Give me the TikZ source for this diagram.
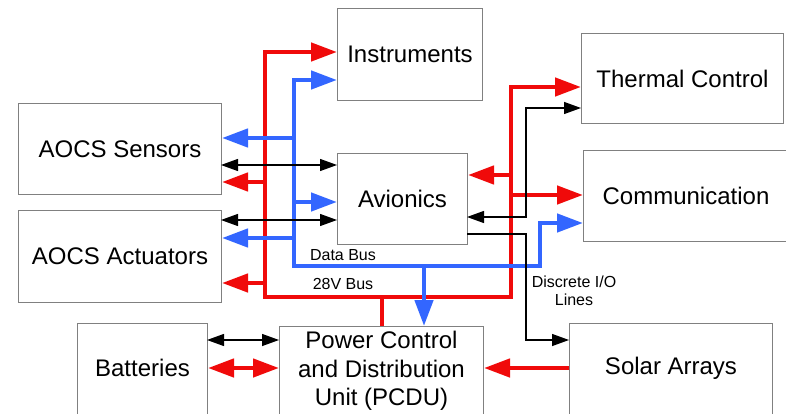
\documentclass[tikz,border=0pt]{standalone}
\usepackage{fontspec}
\setmainfont{Liberation Sans}
\usetikzlibrary{arrows.meta}
\definecolor{busred}{RGB}{240,10,10}
\definecolor{busblue}{RGB}{51,102,255}
\definecolor{boxgray}{RGB}{128,128,128}
\tikzset{
  box/.style={draw=boxgray, line width=1pt, fill=white, anchor=north west,
    inner sep=0pt, align=center, font=\fontsize{24}{28.5}\selectfont},
  lbl/.style={font=\fontsize{16}{18}\selectfont, inner sep=0pt, align=center},
  bigtip/.tip={Triangle[length=26pt, width=18pt]},
  smalltip/.tip={Triangle[length=17pt, width=12pt]},
  redline/.style={draw=busred, line width=4.5pt, line join=miter},
  blueline/.style={draw=busblue, line width=4.5pt, line join=miter},
  blackline/.style={draw=black, line width=1.3pt, line join=miter},
}
\begin{document}
\begin{tikzpicture}[x=1pt, y=-1pt]
\useasboundingbox (0,0) rectangle (786,414);
\fill[white] (0,0) rectangle (786,414);

% boxes
\node[box, minimum width=145, minimum height=92] (inst) at (337,8) {Instruments};
\node[box, minimum width=203, minimum height=91] (sens) at (18,103) {AOCS Sensors};
\node[box, minimum width=203, minimum height=92] (act) at (18,210) {AOCS Actuators};
\node[box, minimum width=130, minimum height=91] (avio) at (337,153) {Avionics};
\node[box, minimum width=202, minimum height=90] (therm) at (581,33) {Thermal Control};
\node[box, minimum width=205, minimum height=91] (comm) at (583,150) {Communication};
\node[box, minimum width=130, minimum height=98, text depth=9pt] (bat) at (77,323) {Batteries};
\node[box, minimum width=204, minimum height=95, text depth=11pt] (pcdu) at (279,326) {Power Control\\and Distribution\\Unit (PCDU)};
\node[box, minimum width=203, minimum height=98, text depth=13pt] (solar) at (569,323) {Solar Arrays};

% bus coordinates
\coordinate (rtl) at (265,52);
\coordinate (rbl) at (265,297);
\coordinate (rbr) at (511,297);
\coordinate (rtr) at (511,87);
\coordinate (rsens) at (265,182);
\coordinate (ract) at (265,283);
\coordinate (ravio) at (511,175);
\coordinate (rcomm) at (511,195);
\coordinate (rpcdu) at (382,297);
\coordinate (rsolar) at (569,368);

\coordinate (btl) at (294,80);
\coordinate (bbl) at (294,266);
\coordinate (bbr) at (540,266);
\coordinate (bcr) at (540,223);
\coordinate (bsens) at (294,138);
\coordinate (bavio) at (294,202);
\coordinate (bact) at (294,238);
\coordinate (bpcdu) at (424,266);

\coordinate (ksens) at (221,165);
\coordinate (kact) at (221,220);
\coordinate (kbat) at (207,340);
\coordinate (kth1) at (467,217);
\coordinate (kth2) at (526,217);
\coordinate (kth3) at (526,108);
\coordinate (kd1) at (467,234);
\coordinate (kd2) at (526,234);
\coordinate (kd3) at (526,340);

% red 28V bus
\draw[redline, {bigtip}-{bigtip}] (rtl -| inst.west) -- (rtl) -- (rbl) -- (rbr) -- (rtr) -- (rtr -| therm.west);
\draw[redline, -{bigtip}] (rsens) -- (rsens -| sens.east);
\draw[redline, -{bigtip}] (ract) -- (ract -| act.east);
\draw[redline, -{bigtip}] (ravio) -- (ravio -| avio.east);
\draw[redline, -{bigtip}] (rcomm) -- (rcomm -| comm.west);
\draw[redline] (rpcdu) -- (rpcdu |- pcdu.north);
\draw[redline, -{bigtip}] (rsolar) -- (rsolar -| pcdu.east);
\draw[redline, {bigtip}-{bigtip}] (bat.east |- rsolar) -- (pcdu.west |- rsolar);

% blue data bus
\draw[blueline, {bigtip}-{bigtip}] (btl -| inst.west) -- (btl) -- (bbl) -- (bbr) -- (bcr) -- (bcr -| comm.west);
\draw[blueline, -{bigtip}] (bsens) -- (bsens -| sens.east);
\draw[blueline, -{bigtip}] (bavio) -- (bavio -| avio.west);
\draw[blueline, -{bigtip}] (bact) -- (bact -| act.east);
\draw[blueline, -{bigtip}] (bpcdu) -- (bpcdu |- pcdu.north);

% black lines
\draw[blackline, {smalltip}-{smalltip}] (ksens) -- (ksens -| avio.west);
\draw[blackline, {smalltip}-{smalltip}] (kact) -- (kact -| avio.west);
\draw[blackline, {smalltip}-{smalltip}] (kbat) -- (kbat -| pcdu.west);
\draw[blackline, {smalltip}-{smalltip}] (kth1) -- (kth2) -- (kth3) -- (kth3 -| therm.west);
\draw[blackline, -{smalltip}] (kd1) -- (kd2) -- (kd3) -- (kd3 -| solar.west);

% labels
\node[lbl] (ldata) at (343,255) {Data Bus};
\node[lbl] (l28) at (343,284) {28V Bus};
\node[lbl] (ldisc) at (574,291) {Discrete I/O\\Lines};
\end{tikzpicture}
\end{document}
